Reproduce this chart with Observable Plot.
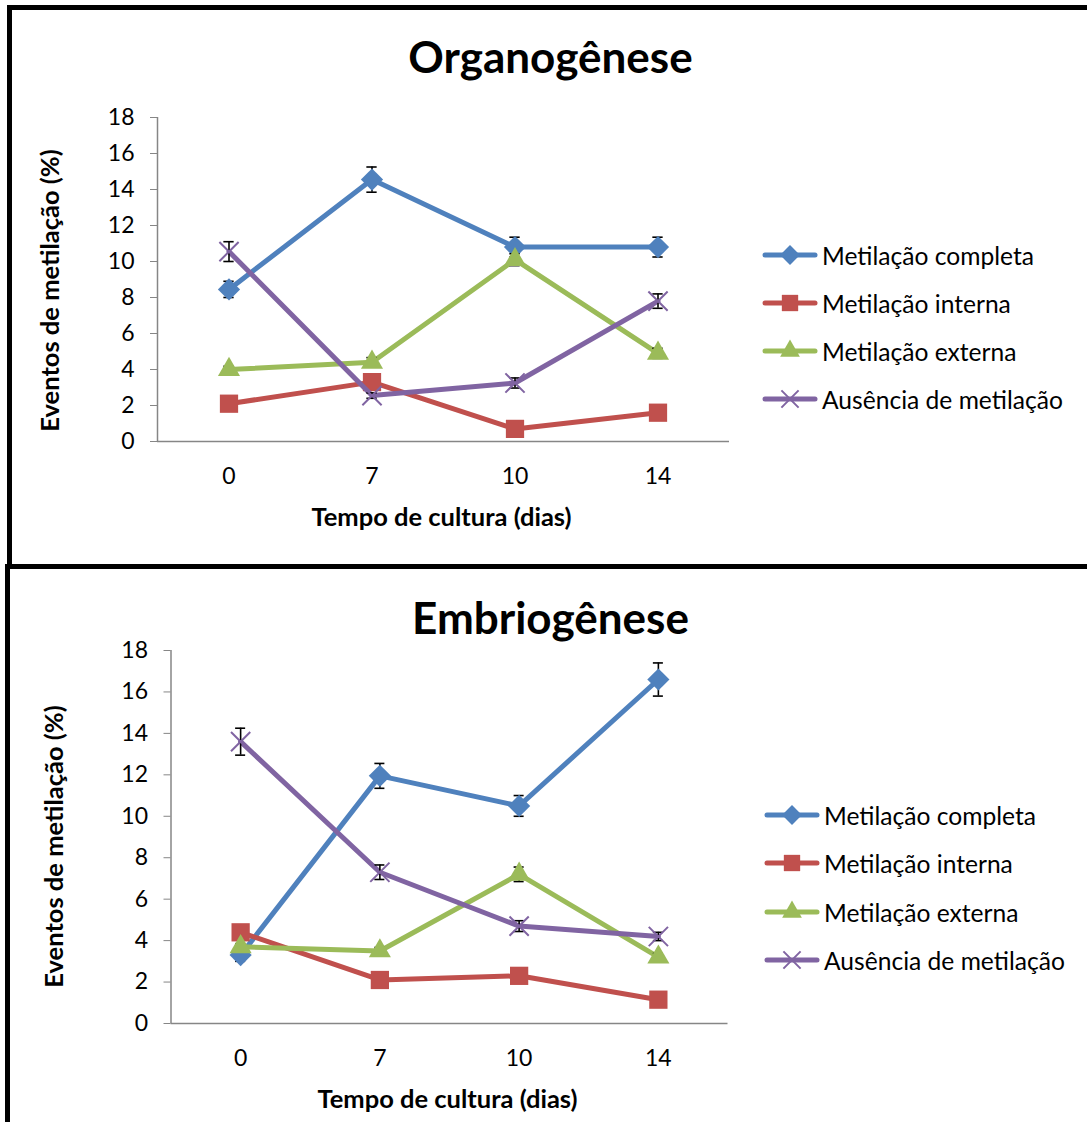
<!DOCTYPE html>
<html><head><meta charset="utf-8">
<script src="https://cdn.jsdelivr.net/npm/d3@7"></script>
<script src="https://cdn.jsdelivr.net/npm/@observablehq/plot@0.6"></script>
<style>
html,body{margin:0;padding:0;background:#fff;overflow:hidden;width:1087px;height:1122px;}
body{position:relative;font-family:Lato,"Open Sans",sans-serif;}
.panel{position:absolute;box-sizing:border-box;border:5px solid #000;background:#fff;}
.chart{position:absolute;left:0;}
.item{position:absolute;display:flex;align-items:center;white-space:nowrap;font-size:24.6px;color:#000;height:30px;}
.item svg{display:block;margin-right:5px;overflow:visible;}
</style></head><body>
<div class="panel" style="left:7px;top:5px;width:1130px;height:564px"></div>
<div class="panel" style="left:5px;top:564px;width:1130px;height:600px"></div>
<div id="top" class="chart" style="top:0px"></div>
<div id="bottom" class="chart" style="top:580px"></div>
<div id="legends"></div>
<script>
// ---------- data ----------
const days = ["0", "7", "10", "14"];
const seriesNames = ["Metilação completa", "Metilação interna", "Metilação externa", "Ausência de metilação"];
const colors = ["#4F81BD", "#C0504D", "#9BBB59", "#8064A2"];
const yTicks = [0, 2, 4, 6, 8, 10, 12, 14, 16, 18];

// Organogênese
const orgCompleta = [8.45, 14.55, 10.8, 10.8];
const orgInterna  = [2.1, 3.3, 0.7, 1.6];
const orgExterna  = [4.0, 4.4, 10.1, 4.9];
const orgAusencia = [10.55, 2.55, 3.25, 7.8];
const orgCompletaErr = [0.45, 0.7, 0.55, 0.55];
const orgInternaErr  = [0.15, 0.15, 0.1, 0.1];
const orgExternaErr  = [0.18, 0.26, 0.33, 0.28];
const orgAusenciaErr = [0.55, 0.15, 0.28, 0.4];

// Embriogênese
const embCompleta = [3.3, 11.95, 10.5, 16.6];
const embInterna  = [4.4, 2.1, 2.3, 1.15];
const embExterna  = [3.7, 3.5, 7.2, 3.2];
const embAusencia = [13.6, 7.3, 4.7, 4.2];
const embCompletaErr = [0.3, 0.6, 0.5, 0.8];
const embInternaErr  = [0.2, 0.15, 0.15, 0.1];
const embExternaErr  = [0.15, 0.17, 0.35, 0.18];
const embAusenciaErr = [0.65, 0.35, 0.26, 0.2];

// ---------- helpers ----------
const symbolSpecs = [
  {symbol: "diamond2", r: 10, filled: true},
  {symbol: "square", r: 10.3, filled: true},
  {symbol: "triangle", r: 8.2, filled: true},
  {symbol: "times", r: 8.8, filled: false}
];
const gray = "#868686";
const capHalf = 0.036;

function rowsFor(values, errs) {
  return values.map((v, i) => ({i, v, e: errs[i]}));
}

function drawPanel(el, cfg) {
  const marks = [
    Plot.ruleY([0], {stroke: gray, strokeWidth: 1.5}),
    Plot.ruleX([-0.5], {y1: 0, y2: 18, stroke: gray, strokeWidth: 1.5}),
    Plot.axisY({ticks: yTicks, tickSize: 7, tickPadding: 16, stroke: gray, fill: "#000", fontSize: 23, label: null}),
    Plot.axisX({ticks: [0, 1, 2, 3], tickFormat: i => days[i], tickSize: 0, tickPadding: 26, fill: "#000", fontSize: 23, label: null})
  ];
  cfg.series.forEach((s, k) => {
    const rows = rowsFor(s.values, s.errs);
    const c = colors[k];
    marks.push(Plot.line(rows, {x: "i", y: "v", stroke: c, strokeWidth: 5}));
    marks.push(Plot.ruleX(rows, {x: "i", y1: d => d.v - d.e, y2: d => d.v + d.e, stroke: "#000", strokeWidth: 1.6}));
    marks.push(Plot.ruleY(rows, {x1: d => d.i - capHalf, x2: d => d.i + capHalf, y: d => d.v - d.e, stroke: "#000", strokeWidth: 1.6}));
    marks.push(Plot.ruleY(rows, {x1: d => d.i - capHalf, x2: d => d.i + capHalf, y: d => d.v + d.e, stroke: "#000", strokeWidth: 1.6}));
    const sp = symbolSpecs[k];
    marks.push(Plot.dot(rows, sp.filled
      ? {x: "i", y: "v", symbol: sp.symbol, r: sp.r, fill: c, stroke: "none"}
      : {x: "i", y: "v", symbol: sp.symbol, r: sp.r, fill: "none", stroke: c, strokeWidth: 2}));
  });
  marks.push(Plot.text([cfg.title], {frameAnchor: "top", lineAnchor: "middle", dx: cfg.titleDx, dy: cfg.titleDy, fontSize: 44, fontWeight: "bold", fill: "#000"}));
  marks.push(Plot.text(["Eventos de metilação (%)"], {frameAnchor: "left", rotate: -90, lineAnchor: "middle", textAnchor: "middle", dx: cfg.yLabelDx, dy: cfg.yLabelDy, fontSize: 25.5, fontWeight: "bold", fill: "#000"}));
  marks.push(Plot.text(["Tempo de cultura (dias)"], {frameAnchor: "bottom", lineAnchor: "middle", dx: cfg.xLabelDx, dy: cfg.xLabelDy, fontSize: 25.5, fontWeight: "bold", fill: "#000"}));

  const chart = Plot.plot({
    width: cfg.width, height: cfg.height,
    marginLeft: cfg.ml, marginRight: cfg.mr, marginTop: cfg.mt, marginBottom: cfg.mb,
    x: {type: "linear", domain: [-0.5, 3.5]},
    y: {type: "linear", domain: [0, 18]},
    style: {fontFamily: "Lato, 'Open Sans', sans-serif", color: "#000", background: "transparent", overflow: "visible"},
    marks
  });
  el.appendChild(chart);
}

drawPanel(document.getElementById("top"), {
  width: 740, height: 540, ml: 157, mr: 11, mt: 117, mb: 99,
  title: "Organogênese", titleDx: 107, titleDy: -58.5,
  yLabelDx: -107, yLabelDy: 11, xLabelDx: -2, xLabelDy: 76,
  series: [
    {values: orgCompleta, errs: orgCompletaErr},
    {values: orgInterna, errs: orgInternaErr},
    {values: orgExterna, errs: orgExternaErr},
    {values: orgAusencia, errs: orgAusenciaErr}
  ]
});

drawPanel(document.getElementById("bottom"), {
  width: 740, height: 542, ml: 170.5, mr: 12.5, mt: 70, mb: 99,
  title: "Embriogênese", titleDx: 101, titleDy: -31,
  yLabelDx: -116.5, yLabelDy: 9.5, xLabelDx: -2, xLabelDy: 76,
  series: [
    {values: embCompleta, errs: embCompletaErr},
    {values: embInterna, errs: embInternaErr},
    {values: embExterna, errs: embExternaErr},
    {values: embAusencia, errs: embAusenciaErr}
  ]
});

// ---------- legends (HTML) ----------
const symbolFns = [d3.symbolDiamond2, d3.symbolSquare, d3.symbolTriangle, d3.symbolTimes];
function drawLegend(left, rows) {
  const host = document.getElementById("legends");
  seriesNames.forEach((name, k) => {
    const item = document.createElement("div");
    item.className = "item";
    item.style.left = left + "px";
    item.style.top = (rows[k] - 15) + "px";
    const sp = symbolSpecs[k];
    const path = d3.symbol(symbolFns[k], Math.PI * sp.r * sp.r * 0.8)();
    const sym = sp.filled
      ? `<path d="${path}" transform="translate(27,15)" fill="${colors[k]}"/>`
      : `<path d="${path}" transform="translate(27,15)" fill="none" stroke="${colors[k]}" stroke-width="2"/>`;
    item.innerHTML = `<svg width="54" height="30"><line x1="2" x2="52" y1="15" y2="15" stroke="${colors[k]}" stroke-width="5" stroke-linecap="round"/>${sym}</svg><span>${name}</span>`;
    host.appendChild(item);
  });
}
drawLegend(763, [255, 303, 351, 399]);
drawLegend(765, [815, 863, 912, 960]);
</script>
</body></html>
